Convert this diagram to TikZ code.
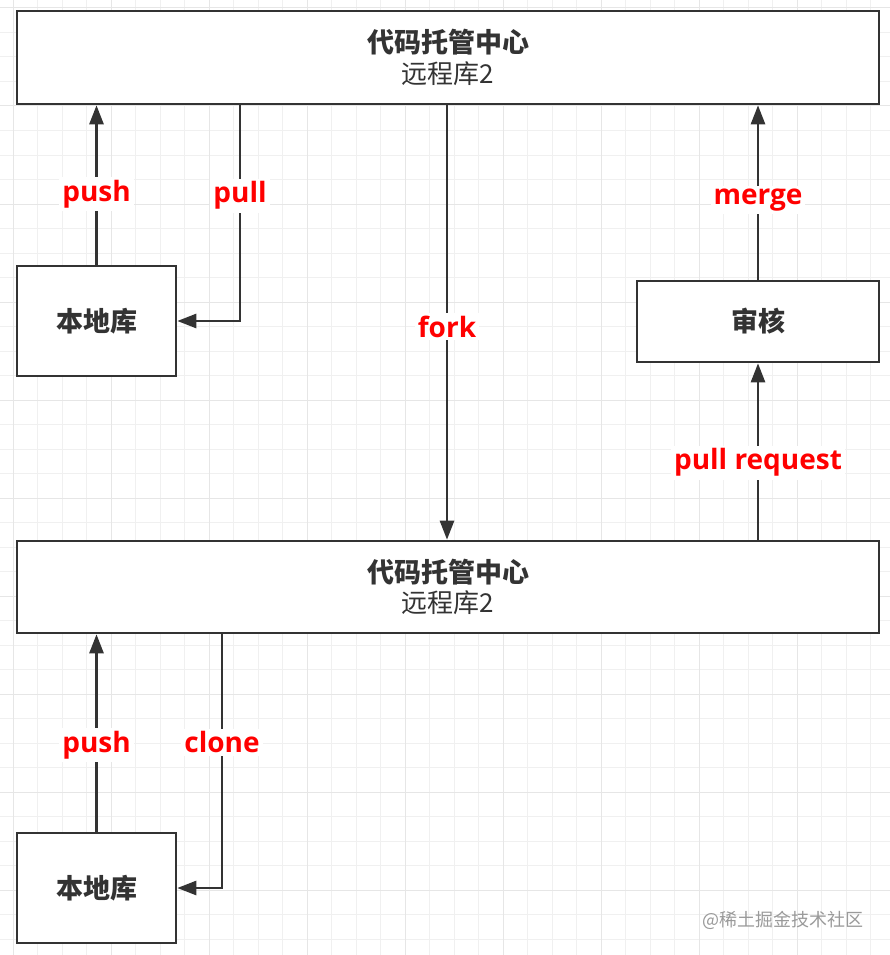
\documentclass[tikz,border=0pt]{standalone}
\usepackage{fontspec}
\usetikzlibrary{arrows.meta,calc}
\newfontfamily\cjk{Noto Sans CJK SC}
\newfontfamily\lab{Open Sans}
\definecolor{ink}{HTML}{333333}
\definecolor{gridc}{HTML}{F0F0F0}
\definecolor{gridm}{HTML}{E6E6E6}
\definecolor{wmc}{HTML}{9A9A9A}
\definecolor{lblred}{HTML}{FF0000}
\begin{document}
\begin{tikzpicture}[x=1pt,y=-1pt,
  box/.style={draw=ink, line width=2.6pt, fill=white, inner sep=0pt, text=ink},
  boldcjk/.style={font=\cjk\bfseries\fontsize{27}{33}\selectfont},
  arr/.style={draw=ink, line width=2.6pt, -{Triangle[length=19pt,width=14pt]}},
  lbl/.style={fill=white, text=lblred, font=\lab\bfseries\fontsize{28}{30}\selectfont, inner sep=3pt, yshift=-4pt}]
\useasboundingbox (0,0) rectangle (890,955);
\fill[white] (0,0) rectangle (890,955);
\foreach \k in {0,...,35} \draw[gridc, line width=1pt] ({13+24.5*\k},0) -- ({13+24.5*\k},955);
\foreach \k in {0,...,38} \draw[gridc, line width=1pt] (0,{8+24.5*\k}) -- (890,{8+24.5*\k});
\foreach \k in {0,4,...,32} \draw[gridm, line width=1pt] ({13+24.5*\k},0) -- ({13+24.5*\k},955);
\foreach \k in {0,4,...,36} \draw[gridm, line width=1pt] (0,{8+24.5*\k}) -- (890,{8+24.5*\k});

\node[box, minimum width=862pt, minimum height=93pt, align=center] (top) at (448,57.5)
  {{\cjk\bfseries\fontsize{27}{33}\selectfont 代码托管中心}\\[5pt]{\cjk\fontsize{26}{33}\selectfont 远程库2}};
\node[box, minimum width=862pt, minimum height=92pt, align=center] (bot) at (448,587)
  {{\cjk\bfseries\fontsize{27}{33}\selectfont 代码托管中心}\\[5pt]{\cjk\fontsize{26}{33}\selectfont 远程库2}};
\node[box, boldcjk, minimum width=159pt, minimum height=110pt] (loc1) at (96.5,321) {本地库};
\node[box, boldcjk, minimum width=242pt, minimum height=81pt] (rev) at (758,321.5) {审核};
\node[box, boldcjk, minimum width=159pt, minimum height=110pt] (loc2) at (96.5,888) {本地库};

\coordinate (xpull) at (240,0);
\coordinate (xfork) at (447,0);
\coordinate (xclone) at (222,0);

\draw[arr] (loc1.north) -- (loc1.north |- top.south) node[lbl, pos=0.47] {push};
\draw[arr] (top.south -| xpull) |- (loc1.east) node[lbl, pos=0.2] {pull};
\draw[arr] (top.south -| xfork) -- (bot.north -| xfork) node[lbl, midway] {fork};
\draw[arr] (rev.north) -- (rev.north |- top.south) node[lbl, pos=0.48] {merge};
\draw[arr] (rev.south |- bot.north) -- (rev.south) node[lbl, pos=0.46] {pull request};
\draw[arr] (loc2.north) -- (loc2.north |- bot.south) node[lbl, pos=0.46] {push};
\draw[arr] (bot.south -| xclone) |- (loc2.east) node[lbl, pos=0.205] {clone};

\node[text=wmc, font=\cjk\fontsize{18}{20}\selectfont, inner sep=0pt] (wm) at (783,920) {@稀土掘金技术社区};
\end{tikzpicture}
\end{document}
